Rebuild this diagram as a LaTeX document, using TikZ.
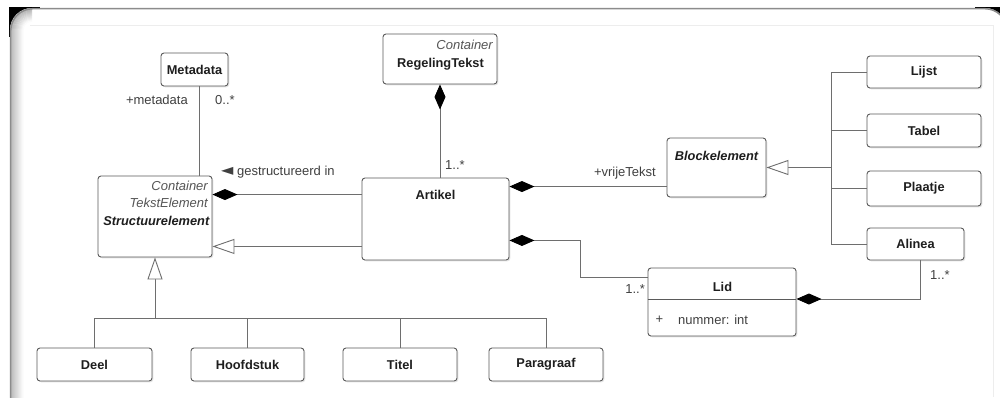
\documentclass[tikz,border=0pt]{standalone}
\usepackage{fontspec}
\setmainfont{Liberation Sans}
\newfontfamily\dejavu{DejaVu Sans}
\usetikzlibrary{arrows.meta,shadows}
\definecolor{lc}{HTML}{6E6E6E}
\definecolor{bc}{HTML}{5A5A5A}
\definecolor{tc}{HTML}{1E1E1E}
\definecolor{ic}{HTML}{555555}
\tikzset{
  umlbox/.style={draw=bc, line width=0.9pt, fill=white, rounded corners=3pt, inner sep=0pt,
    drop shadow={opacity=0.22, shadow xshift=1.3pt, shadow yshift=-1.3pt},
    font=\fontsize{12.8}{14}\selectfont\bfseries, text=tc},
  bname/.style={font=\fontsize{12.8}{14}\selectfont\bfseries, text=tc, inner sep=0pt},
  bitname/.style={font=\fontsize{12.8}{14}\selectfont\bfseries\itshape, text=tc, inner sep=0pt},
  stereo/.style={font=\fontsize{13}{15}\selectfont\itshape, text=ic, inner sep=0pt},
  lbl/.style={font=\fontsize{13}{15}\selectfont, text=tc!85, inner sep=0pt},
  conn/.style={draw=lc, line width=0.9pt},
  comp/.style={conn, {Diamond[color=black, fill=black, length=25pt, width=11pt]}-},
  gen/.style={conn, {Triangle[length=22pt, width=15pt, fill=white]}-},
}
\begin{document}
\begin{tikzpicture}[x=1pt,y=-1pt]
\useasboundingbox (0,0) rectangle (1000,397);
\fill[white] (0,0) rectangle (1000,397);
% frame
\fill[black] (9,7) rectangle (40,37);
\fill[black] (975,7) rectangle (1000,30);
\fill[white, rounded corners=22pt] (10,8) rectangle (1007,440);
\foreach \i in {1,...,13}{
  \pgfmathsetmacro\shadeval{34-2.5*\i}
  \pgfmathsetmacro\rr{22-\i}
  \draw[black!\shadeval, line width=1.2pt] (10+\i,400) -- (10+\i,30) arc[start angle=180, end angle=90, radius=\rr pt];
}
\draw[black!45, line width=1.5pt, rounded corners=22pt] (10.7,440) -- (10.7,8.7) -- (1007,8.7) -- (1007,440);
\draw[black!7] (30,25) -- (993,25) -- (993,397);

% boxes
\node[umlbox, minimum width=67pt, minimum height=33pt] (meta) at (194.5,69.5) {Metadata};
\node[umlbox, minimum width=114pt, minimum height=50pt] (reg) at (440,59) {};
\node[stereo, anchor=east] (regS) at (493,45) {Container};
\node[bname] (regT) at (440.5,64) {RegelingTekst};
\node[umlbox, minimum width=114pt, minimum height=81pt] (stru) at (155,216.5) {};
\node[stereo, anchor=east] (struS1) at (208,186) {Container};
\node[stereo, anchor=east] (struS2) at (208,202.5) {TekstElement};
\node[bitname, anchor=east] (struT) at (209.5,220.5) {Structuurelement};
\node[umlbox, minimum width=147pt, minimum height=82pt] (art) at (435.5,219) {};
\node[bname] (artT) at (435.5,195) {Artikel};
\node[umlbox, minimum width=99pt, minimum height=59pt] (blk) at (716.5,167.5) {};
\node[bitname] (blkT) at (716.5,155.5) {Blockelement};
\node[umlbox, minimum width=114pt, minimum height=32pt] (lijst) at (924,72) {Lijst};
\node[umlbox, minimum width=114pt, minimum height=33pt] (tabel) at (924,130.5) {Tabel};
\node[umlbox, minimum width=114pt, minimum height=35pt] (plaatje) at (924,188.5) {Plaatje};
\node[umlbox, minimum width=97pt, minimum height=32pt] (alinea) at (915.5,244) {Alinea};
\node[umlbox, minimum width=148pt, minimum height=68pt] (lid) at (722,302) {};
\node[bname] (lidT) at (722.5,286.5) {Lid};
\draw[draw=bc, line width=0.9pt] ([yshift=3pt]lid.west) -- ([yshift=3pt]lid.east);
\node[lbl] (lidP) at (659.5,320) {+};
\node[lbl, anchor=west] (lidA) at (678,320) {nummer: int};
\node[umlbox, minimum width=115pt, minimum height=33pt] (deel) at (94.5,364.5) {Deel};
\node[umlbox, minimum width=113pt, minimum height=33pt] (hoofd) at (247.5,364.5) {Hoofdstuk};
\node[umlbox, minimum width=114pt, minimum height=33pt] (titel) at (400,364.5) {Titel};
\node[umlbox, minimum width=114pt, minimum height=33pt] (para) at (546,364.5) {Paragraaf};

% Metadata association
\draw[conn] ([xshift=4.5pt]meta.south) -- ([xshift=4.5pt]meta.south |- stru.north);
\node[lbl, anchor=east] (metaR) at (188,100) {+metadata};
\node[lbl, anchor=west] (metaM) at (215,100) {0..*};

% Structuurelement <-> Artikel
\draw[comp] ([yshift=-19pt]stru.north east) -- ([yshift=-19pt]stru.north east -| art.west);
\draw[gen] ([yshift=11pt]stru.south east) -- ([yshift=11pt]stru.south east -| art.west);
\node[lbl, anchor=west] (gest) at (221,172) {{\dejavu\fontsize{16}{16}\selectfont\raisebox{-0.6pt}{◄}} gestructureerd in};

% RegelingTekst -> Artikel
\draw[comp] (reg.south) -- (reg.south |- art.north);
\node[lbl, anchor=west] (regM) at (445,165.5) {1..*};

% Artikel -> Blockelement
\draw[comp] ([yshift=-9pt]art.north east) -- ([yshift=-9pt]art.north east -| blk.west);
\node[lbl, anchor=east] (vrij) at (656,173) {+vrijeTekst};

% Blockelement generalization
\coordinate (trunk) at (831,167.5);
\draw[gen] (blk.east) -- (trunk);
\draw[conn] (lijst.west) -- (lijst.west -| trunk) -- (alinea.west -| trunk) -- (alinea.west);
\draw[conn] (tabel.west) -- (tabel.west -| trunk);
\draw[conn] (plaatje.west) -- (plaatje.west -| trunk);

% Artikel -> Lid
\coordinate (bendA) at (580,277);
\draw[comp] ([yshift=20pt]art.south east) -| (bendA) -- (bendA -| lid.west);
\node[lbl, anchor=east] (lidM) at (645,289) {1..*};

% Lid -> Alinea
\draw[comp] ([yshift=3pt]lid.east) -| ([xshift=4.5pt]alinea.south);
\node[lbl, anchor=west] (alM) at (930,275) {1..*};

% Structuurelement specialisations
\coordinate (bus) at (155,318);
\draw[gen] (stru.south) -- (bus);
\draw[conn] (deel.north |- bus) -- (para.north |- bus);
\draw[conn] (deel.north |- bus) -- (deel.north);
\draw[conn] (hoofd.north |- bus) -- (hoofd.north);
\draw[conn] (titel.north |- bus) -- (titel.north);
\draw[conn] (para.north |- bus) -- (para.north);
\end{tikzpicture}
\end{document}
